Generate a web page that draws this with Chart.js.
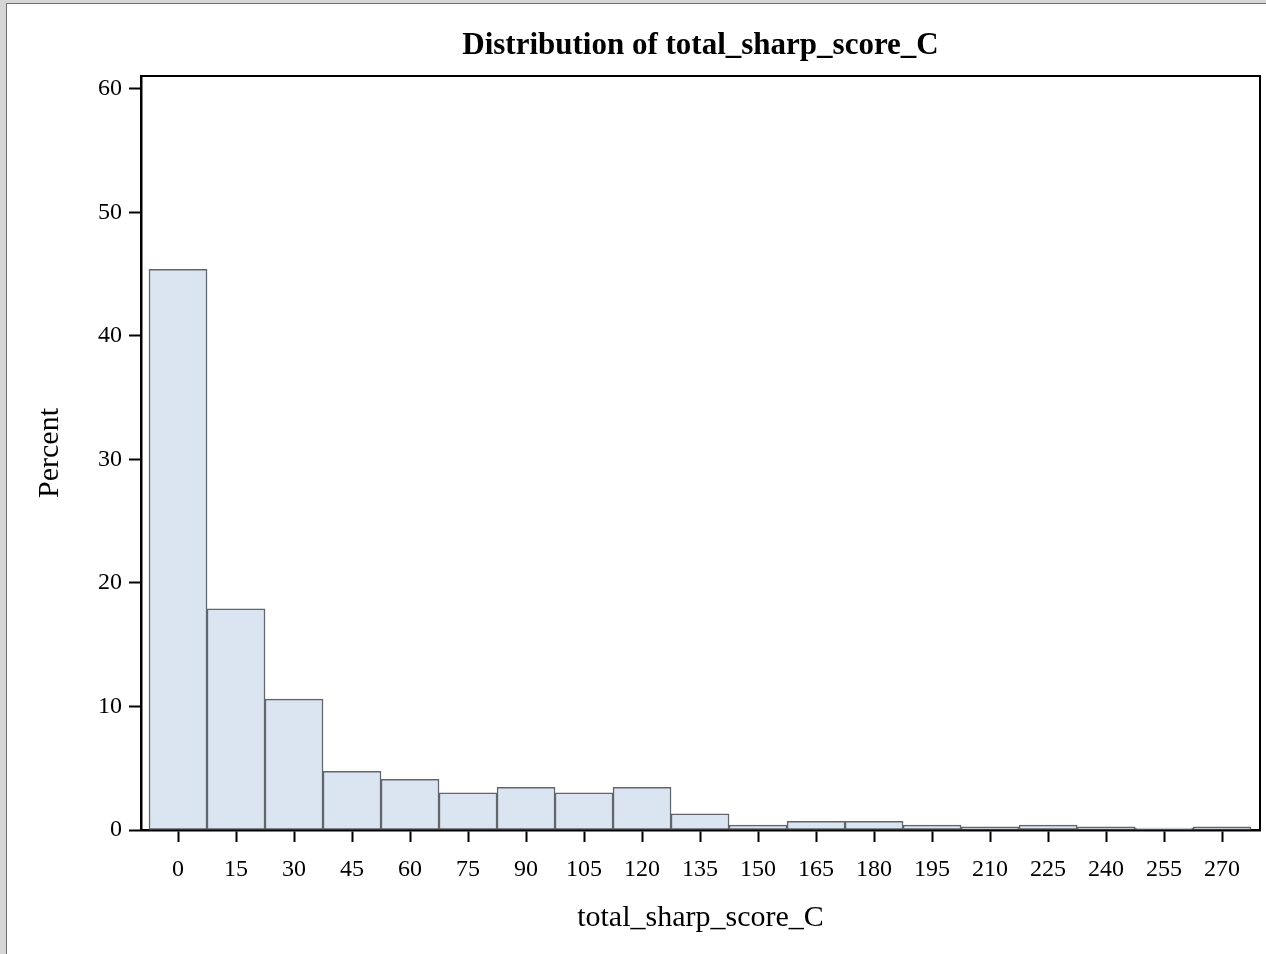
<!DOCTYPE html>
<html>
<head>
<meta charset="utf-8">
<script src="https://cdn.jsdelivr.net/npm/chart.js@4/dist/chart.umd.min.js"></script>
<style>
  html, body { margin: 0; padding: 0; background: #d6d6d6; }
  #frame { position: absolute; left: 6px; top: 3px; width: 1260px; height: 951px;
           background: #ffffff; border-left: 1px solid #707070; border-top: 1px solid #707070; }
  canvas { display: block; }
</style>
</head>
<body>
<div id="frame"><canvas id="c" width="1259" height="950"></canvas></div>
<script>
// Bin midpoints (total_sharp_score_C) and percent in each bin
const binMidpoints = [0, 15, 30, 45, 60, 75, 90, 105, 120, 135, 150, 165, 180, 195, 210, 225, 240, 255, 270];
const percentValues = [45.4, 17.9, 10.6, 4.75, 4.1, 3.0, 3.45, 3.0, 3.45, 1.3, 0.4, 0.7, 0.7, 0.4, 0.25, 0.4, 0.25, 0.15, 0.25];
const xTickLabels = [0, 15, 30, 45, 60, 75, 90, 105, 120, 135, 150, 165, 180, 195, 210, 225, 240, 255, 270];
const yTickLabels = [0, 10, 20, 30, 40, 50, 60];

const chartTitle = 'Distribution of total_sharp_score_C';
const xAxisTitle = 'total_sharp_score_C';
const yAxisTitle = 'Percent';

const points = binMidpoints.map((x, i) => ({ x: x, y: percentValues[i] }));

const serif = "'Liberation Serif', 'Times New Roman', serif";

const framePlugin = {
  id: 'frameLines',
  afterDraw(chart) {
    const { ctx, chartArea } = chart;
    ctx.save();
    ctx.strokeStyle = '#000';
    ctx.lineWidth = 2;
    ctx.beginPath();
    ctx.moveTo(chartArea.left, chartArea.top);
    ctx.lineTo(chartArea.right, chartArea.top);
    ctx.lineTo(chartArea.right, chartArea.bottom);
    ctx.stroke();
    ctx.restore();
  }
};

new Chart(document.getElementById('c'), {
  type: 'bar',
  data: {
    datasets: [{
      data: points,
      backgroundColor: '#dbe5f1',
      borderColor: '#62666c',
      borderWidth: 1.5,
      borderSkipped: false,
      barPercentage: 1.0,
      categoryPercentage: 1.0
    }]
  },
  options: {
    responsive: false,
    devicePixelRatio: 1,
    animation: false,
    layout: { padding: { left: 0, right: 6, top: 0, bottom: 0 } },
    plugins: {
      legend: { display: false },
      tooltip: { enabled: false },
      title: {
        display: true,
        fullSize: false,
        text: chartTitle,
        color: '#000',
        font: { family: serif, size: 31, weight: 'bold' },
        padding: { top: 23.4, bottom: 11.4 }
      }
    },
    scales: {
      x: {
        type: 'linear',
        offset: false,
        min: -9.57,
        max: 279.8,
        afterBuildTicks: (axis) => { axis.ticks = xTickLabels.map(v => ({ value: v })); },
        afterFit: (scale) => { scale.height = 124; },
        ticks: {
          autoSkip: false,
          maxRotation: 0,
          color: '#000',
          font: { family: serif, size: 24 },
          padding: 13
        },
        grid: {
          offset: false,
          drawOnChartArea: false,
          drawTicks: true,
          tickLength: 12,
          tickWidth: 2,
          tickColor: '#000',
          color: '#000'
        },
        border: { display: true, color: '#000', width: 2.5 },
        title: {
          display: true,
          text: xAxisTitle,
          color: '#000',
          font: { family: serif, size: 30 },
          padding: { top: 0, bottom: 18 }
        }
      },
      y: {
        type: 'linear',
        min: 0,
        max: 61.05,
        afterBuildTicks: (axis) => { axis.ticks = yTickLabels.map(v => ({ value: v })); },
        afterFit: (scale) => { scale.width = 134; },
        ticks: {
          color: '#000',
          font: { family: serif, size: 24 },
          padding: 7
        },
        grid: {
          drawOnChartArea: false,
          drawTicks: true,
          tickLength: 12,
          tickWidth: 2,
          tickColor: '#000',
          color: '#000'
        },
        border: { display: true, color: '#000', width: 2.5 },
        title: {
          display: true,
          text: yAxisTitle,
          color: '#000',
          font: { family: serif, size: 30 },
          padding: { top: 25, bottom: 0 }
        }
      }
    }
  },
  plugins: [framePlugin]
});
</script>
</body>
</html>
